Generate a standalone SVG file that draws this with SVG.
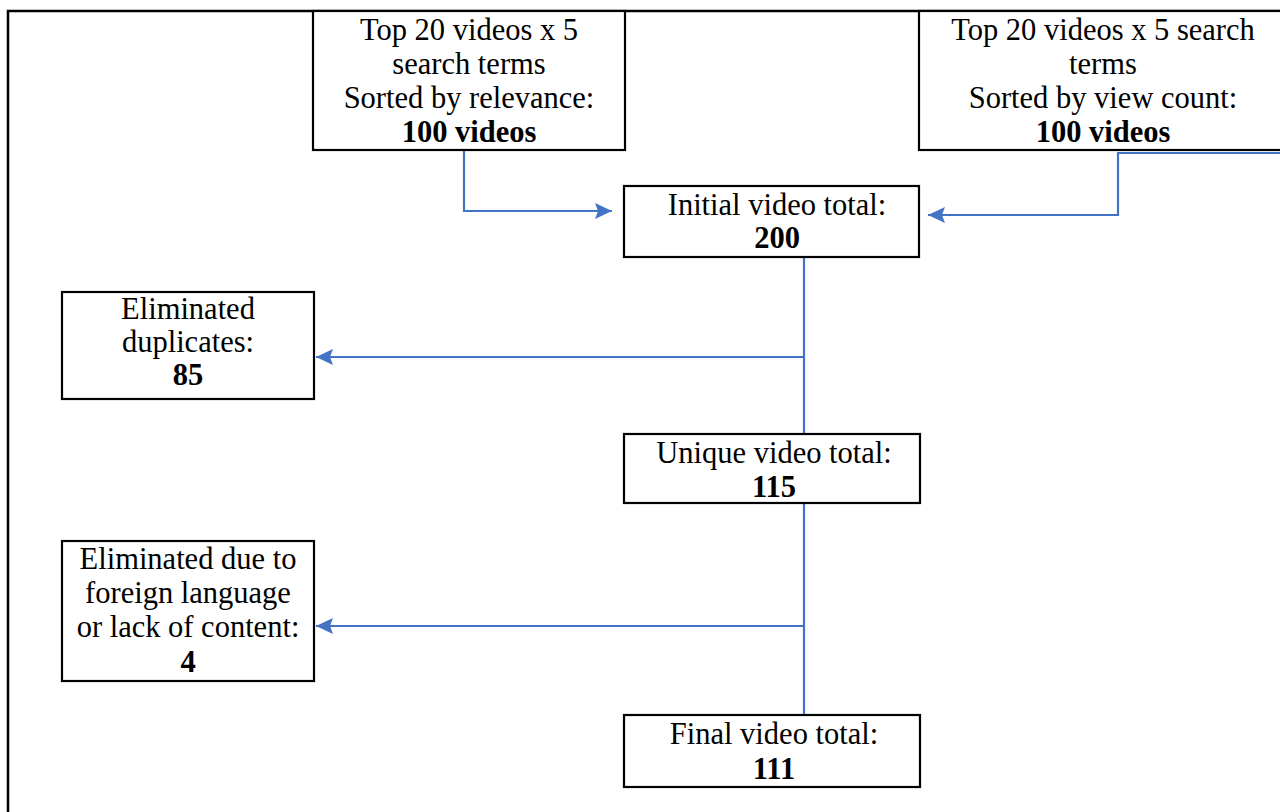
<svg xmlns="http://www.w3.org/2000/svg" width="1280" height="812" viewBox="0 0 1280 812">
  <style>
    .box { fill: #ffffff; stroke: #000000; stroke-width: 2.2; }
    .frame { fill: none; stroke: #000000; stroke-width: 2.5; }
    .lbl { font-family: "Liberation Serif", "Times New Roman", serif; font-size: 30.5px; fill: #000000; text-anchor: middle; }
    .num { font-weight: bold; }
    .link { fill: none; stroke: #4472C4; stroke-width: 2.2; }
  </style>
  <defs>
    <marker id="arrow" markerUnits="userSpaceOnUse" viewBox="0 0 18 16" markerWidth="18" markerHeight="16" refX="17" refY="8" orient="auto">
      <path d="M0,0 L17,8 L0,16 L3,8 Z" fill="#4472C4"/>
    </marker>
  </defs>

  <rect width="1280" height="812" fill="#ffffff"/>

  <!-- page frame -->
  <path class="frame" d="M8,812 V11 H1280"/>

  <!-- connectors -->
  <g id="connectors">
    <path class="link" d="M315,150 H464 V211 H612" marker-end="url(#arrow)"/>
    <path class="link" d="M1280,153 H1118 V215 H928" marker-end="url(#arrow)"/>
    <path class="link" d="M804,257 V434"/>
    <path class="link" d="M804,357 H316" marker-end="url(#arrow)"/>
    <path class="link" d="M804,503 V715"/>
    <path class="link" d="M804,626 H316" marker-end="url(#arrow)"/>
  </g>

  <g id="node-relevance">
    <rect class="box" x="313" y="11" width="312" height="139"/>
    <text class="lbl" x="469" y="40">Top 20 videos x 5</text>
    <text class="lbl" x="469" y="74">search terms</text>
    <text class="lbl" x="469" y="108">Sorted by relevance:</text>
    <text class="lbl num" x="469" y="142">100 videos</text>
  </g>

  <g id="node-viewcount">
    <rect class="box" x="919" y="11" width="380" height="139"/>
    <text class="lbl" x="1103" y="40">Top 20 videos x 5 search</text>
    <text class="lbl" x="1103" y="74">terms</text>
    <text class="lbl" x="1103" y="108">Sorted by view count:</text>
    <text class="lbl num" x="1103" y="142">100 videos</text>
  </g>

  <g id="node-initial">
    <rect class="box" x="624" y="186" width="295" height="71"/>
    <text class="lbl" x="777" y="215">Initial video total:</text>
    <text class="lbl num" x="777" y="248">200</text>
  </g>

  <g id="node-duplicates">
    <rect class="box" x="62" y="292" width="252" height="107"/>
    <text class="lbl" x="188" y="319">Eliminated</text>
    <text class="lbl" x="188" y="352">duplicates:</text>
    <text class="lbl num" x="188" y="385">85</text>
  </g>

  <g id="node-unique">
    <rect class="box" x="624" y="434" width="296" height="69"/>
    <text class="lbl" x="774" y="463">Unique video total:</text>
    <text class="lbl num" x="774" y="497">115</text>
  </g>

  <g id="node-foreign">
    <rect class="box" x="62" y="541" width="252" height="140"/>
    <text class="lbl" x="188" y="569">Eliminated due to</text>
    <text class="lbl" x="188" y="603">foreign language</text>
    <text class="lbl" x="188" y="637">or lack of content:</text>
    <text class="lbl num" x="188" y="672">4</text>
  </g>

  <g id="node-final">
    <rect class="box" x="624" y="715" width="296" height="72"/>
    <text class="lbl" x="774" y="744">Final video total:</text>
    <text class="lbl num" x="774" y="779">111</text>
  </g>
</svg>
